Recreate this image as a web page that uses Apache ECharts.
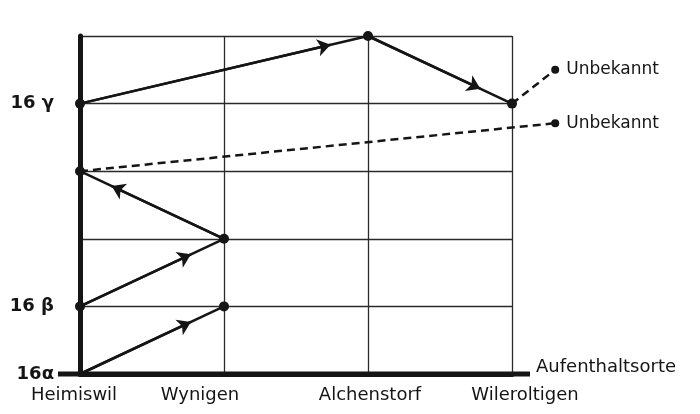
<!DOCTYPE html>
<html>
<head>
<meta charset="utf-8">
<script src="https://cdn.jsdelivr.net/npm/echarts@6/dist/echarts.min.js"></script>
<style>
html,body{margin:0;padding:0;background:#fff;}
#main{width:700px;height:414px;}
</style>
</head>
<body>
<div id="main"></div>
<script>
// places along x, generations along y
var places = ['Heimiswil', 'Wynigen', 'Alchenstorf', 'Wileroltigen'];
var genTicks = [0, 1, 4];
var genLabels = ['16\u03b1', '16 \u03b2', '16 \u03b3'];
var unknownLabel = 'Unbekannt';

// paths: [placeIndex, level]
var alphaPath = [[0, 0], [1, 1]];
var betaPath = [[0, 1], [1, 2], [0, 3]];
var betaUnknown = [[0, 3], [3.3, 3.71]];
var gammaPath = [[0, 4], [2, 5], [3, 4]];
var gammaUnknown = [[3, 4], [3.3, 4.5]];

// where the arrow head sits on each segment (fraction of the way)
var alphaArrows = [0.77];
var betaArrows = [0.77, 0.78];
var gammaArrows = [0.87, 0.78];

var ink = '#151515';
var font = 'DejaVu Sans';
// nudges for x labels (px, negative = left)
var placeShift = [-6, -24, 2, 13];

function arrowSegs(path, fracs) {
    var out = [];
    for (var i = 0; i < fracs.length; i++) {
        var a = path[i], b = path[i + 1], f = fracs[i];
        out.push({coords: [a, [a[0] + (b[0] - a[0]) * f, a[1] + (b[1] - a[1]) * f]]});
    }
    return out;
}

function solid(path, hideFirst) {
    return {
        type: 'line',
        data: path.map(function (p, i) {
            return (hideFirst && i === 0) ? {value: p, symbolSize: 0} : p;
        }),
        symbol: 'circle',
        symbolSize: 10,
        itemStyle: {color: ink},
        lineStyle: {color: ink, width: 2.5},
        animation: false,
        z: 3
    };
}

var rich = {};
places.forEach(function (p, i) {
    var s = placeShift[i];
    rich['p' + i] = {
        fontFamily: font, fontSize: 18, color: ink,
        padding: s < 0 ? [0, -2 * s, 0, 0] : [0, 0, 0, 2 * s]
    };
});

var arrowData = arrowSegs(alphaPath, alphaArrows)
    .concat(arrowSegs(betaPath, betaArrows))
    .concat(arrowSegs(gammaPath, gammaArrows));

var unknownEnds = [betaUnknown[1], gammaUnknown[1]];

var chart = echarts.init(document.getElementById('main'));
chart.setOption({
    backgroundColor: '#fff',
    animation: false,
    grid: {left: 80, right: 188, top: 36, bottom: 40},
    xAxis: {
        type: 'value', min: 0, max: 3, interval: 1,
        name: 'Aufenthaltsorte', nameLocation: 'end', nameGap: 24,
        nameTextStyle: {fontFamily: font, fontSize: 18, color: ink, verticalAlign: 'bottom', padding: [0, 0, -2, 0]},
        axisLine: {lineStyle: {color: ink, width: 5}},
        axisTick: {show: false},
        splitLine: {lineStyle: {color: '#2a2a2a', width: 1.3}},
        axisLabel: {
            margin: 12,
            rich: rich,
            formatter: function (v) {
                var i = Math.round(v);
                return places[i] ? '{p' + i + '|' + places[i] + '}' : '';
            }
        }
    },
    yAxis: {
        type: 'value', min: 0, max: 5, interval: 1,
        axisLine: {show: true, lineStyle: {color: ink, width: 5}},
        axisTick: {show: false},
        splitLine: {lineStyle: {color: '#2a2a2a', width: 1.3}},
        axisLabel: {
            margin: 26,
            fontFamily: font, fontSize: 18, fontWeight: 'bold', color: ink,
            formatter: function (v) {
                var i = genTicks.indexOf(v);
                return i >= 0 ? genLabels[i] : '';
            }
        }
    },
    series: [
        solid(alphaPath, true),
        solid(betaPath, false),
        solid(gammaPath, false),
        {
            // dashed continuations to unknown places
            type: 'lines',
            coordinateSystem: 'cartesian2d',
            clip: false,
            data: [{coords: betaUnknown}, {coords: gammaUnknown}],
            lineStyle: {color: ink, width: 2.5, type: [8, 5], opacity: 1},
            animation: false,
            z: 3
        },
        {
            type: 'scatter',
            clip: false,
            data: unknownEnds,
            symbolSize: 8,
            itemStyle: {color: ink, opacity: 1},
            label: {
                show: true, position: 'right', distance: 7,
                formatter: unknownLabel, color: ink,
                fontFamily: font, fontSize: 17
            },
            animation: false,
            z: 4
        },
        {
            type: 'lines',
            coordinateSystem: 'cartesian2d',
            data: arrowData,
            symbol: ['none', 'arrow'],
            symbolSize: 13,
            lineStyle: {color: ink, width: 2.5, opacity: 1},
            animation: false,
            z: 4
        }
    ]
});

// hand drawn axes run a bit past the grid
var o = chart.convertToPixel({gridIndex: 0}, [0, 0]);
var top = chart.convertToPixel({gridIndex: 0}, [0, 5]);
var right = chart.convertToPixel({gridIndex: 0}, [3, 0]);
chart.setOption({
    graphic: [
        {type: 'line', shape: {x1: o[0], y1: top[1] - 21, x2: o[0], y2: o[1] + 14}, style: {stroke: ink, lineWidth: 5}, z: 5},
        {type: 'line', shape: {x1: o[0] - 22, y1: o[1], x2: right[0] + 18, y2: o[1]}, style: {stroke: ink, lineWidth: 5}, z: 5}
    ]
});
</script>
</body>
</html>
